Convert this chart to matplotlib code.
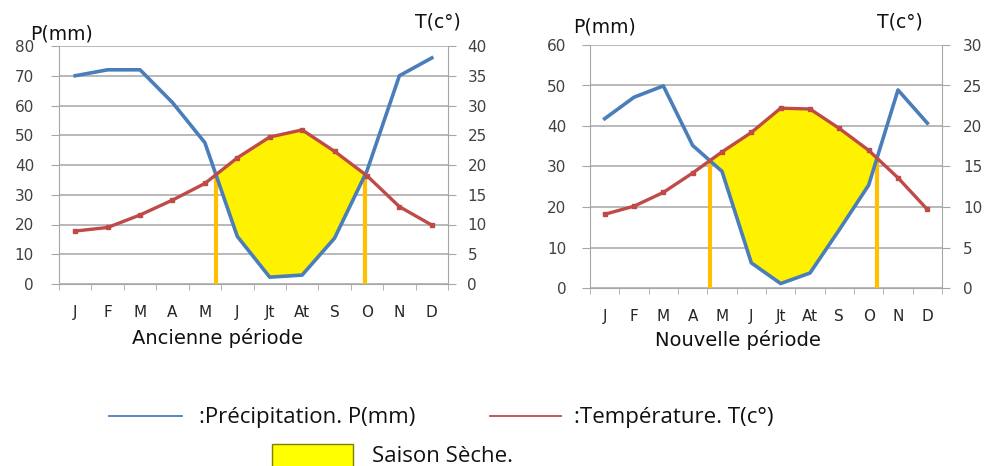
import numpy as np
import matplotlib.pyplot as plt
from matplotlib.lines import Line2D
from matplotlib.patches import Rectangle

plt.rcParams['font.family'] = ['DejaVu Sans']

mois = ['J', 'F', 'M', 'A', 'M', 'J', 'Jt', 'At', 'S', 'O', 'N', 'D']

P_ancienne = [70, 72, 72, 61, 47.5, 16, 2.3, 3, 15.4, 38, 70, 76]
T_ancienne = [8.9, 9.5, 11.6, 14.1, 16.9, 21.2, 24.7, 25.9, 22.3, 18.2, 13.0, 9.9]

P_nouvelle = [41.8, 47.1, 49.9, 35.2, 28.8, 6.2, 1.1, 3.7, 14.4, 25.4, 48.9, 40.7]
T_nouvelle = [9.1, 10.1, 11.8, 14.2, 16.8, 19.2, 22.2, 22.1, 19.7, 17.0, 13.6, 9.7]

BLEU = '#4A7EBB'
ROUGE = '#BE4B48'
JAUNE = '#FFF200'
ORANGE = '#FFC000'
GRIS = '#A6A6A6'

W, H = 985, 466
fig = plt.figure(figsize=(W / 100, H / 100), dpi=100)


def fx(px):
    return px / W


def fy(py):
    return 1 - py / H


def croisements(x, p, t2):
    """points où P croise 2T (interpolation linéaire)"""
    d = np.asarray(p) - np.asarray(t2)
    res = []
    for i in range(len(d) - 1):
        if d[i] * d[i + 1] < 0:
            f = d[i] / (d[i] - d[i + 1])
            res.append((x[i] + f, t2[i] + f * (t2[i + 1] - t2[i])))
    return res


def diagramme(rect, P, T, pmax, titre, titre_xy, p_xy, t_xy, padg, padd):
    ax = fig.add_axes(rect)
    x = np.arange(len(mois))
    P = np.array(P)
    T2 = 2 * np.array(T)

    # saison sèche : P < 2T
    ax.fill_between(x, P, T2, where=T2 >= P, interpolate=True,
                    color=JAUNE, lw=0, zorder=2)
    for xc, yc in croisements(x, P, T2):
        ax.plot([xc, xc], [0, yc], color=ORANGE, lw=3, zorder=3,
                solid_capstyle='butt')

    ax.plot(x, P, color=BLEU, lw=2.6, zorder=4)

    ax.set_xlim(-0.5, 11.5)
    ax.set_ylim(0, pmax)
    ax.set_yticks(np.arange(0, pmax + 1, 10))
    ax.yaxis.grid(True, color=GRIS, lw=1.1)
    ax.set_axisbelow(True)

    ax.set_xticks(x)
    ax.set_xticklabels(mois)
    ax.set_xticks(np.arange(-0.5, 12, 1), minor=True)
    ax.tick_params(axis='x', which='major', length=0, pad=15,
                   labelsize=11, labelcolor='#262626')
    ax.tick_params(axis='x', which='minor', length=4, color=GRIS)
    ax.tick_params(axis='y', length=6, color=GRIS, labelsize=11,
                   labelcolor='#404040', pad=padg)

    for s in ['left', 'bottom']:
        ax.spines[s].set_color(GRIS)
    ax.spines['top'].set_visible(False)
    ax.spines['right'].set_visible(False)

    ax2 = ax.twinx()
    ax2.plot(x, T, color=ROUGE, lw=2.4, marker='s', ms=3, zorder=5)
    ax2.set_ylim(0, pmax / 2)
    ax2.set_yticks(np.arange(0, pmax / 2 + 1, 5))
    ax2.tick_params(axis='y', length=6, color=GRIS, labelsize=11,
                    labelcolor='#404040', pad=padd)
    for s in ['left', 'top', 'bottom']:
        ax2.spines[s].set_visible(False)
    ax2.spines['right'].set_color(GRIS)

    fig.text(fx(titre_xy[0]), fy(titre_xy[1]), titre, fontsize=14,
             ha='center', va='center', color='#111111')
    fig.text(fx(p_xy[0]), fy(p_xy[1]), 'P(mm)', fontsize=13.5,
             ha='left', va='center', color='#111111')
    fig.text(fx(t_xy[0]), fy(t_xy[1]), 'T(c°)', fontsize=13.5,
             ha='left', va='center', color='#111111')
    return ax


diagramme([fx(59), fy(284), fx(448) - fx(59), fy(46) - fy(284)],
          P_ancienne, T_ancienne, 80, 'Ancienne période',
          (217, 338), (30, 34), (415, 22), 12, 8)
diagramme([fx(590), fy(288), fx(942) - fx(590), fy(45) - fy(288)],
          P_nouvelle, T_nouvelle, 60, 'Nouvelle période',
          (738, 340), (573, 27), (877, 22), 11, 9)

# légende
leg_font = 'Open Sans'
fig.add_artist(Line2D([fx(109), fx(182)], [fy(416), fy(416)],
                      color=BLEU, lw=1.3, transform=fig.transFigure))
fig.text(fx(199), fy(418), ':Précipitation. P(mm)', fontsize=16,
         family=leg_font, ha='left', va='center', color='#111111')
fig.add_artist(Line2D([fx(490), fx(561)], [fy(416), fy(416)],
                      color=ROUGE, lw=1.3, transform=fig.transFigure))
fig.text(fx(574), fy(418), ':Température. T(c°)', fontsize=16,
         family=leg_font, ha='left', va='center', color='#111111')
fig.add_artist(Rectangle((fx(272), fy(468)), fx(353) - fx(272), fy(444) - fy(468),
                         facecolor='#FFFF00', edgecolor='#7F7F00', lw=1.0,
                         transform=fig.transFigure))
fig.text(fx(372), fy(456), 'Saison Sèche.', fontsize=16,
         family=leg_font, ha='left', va='center', color='#111111')

fig.savefig('out.png', dpi=100)
